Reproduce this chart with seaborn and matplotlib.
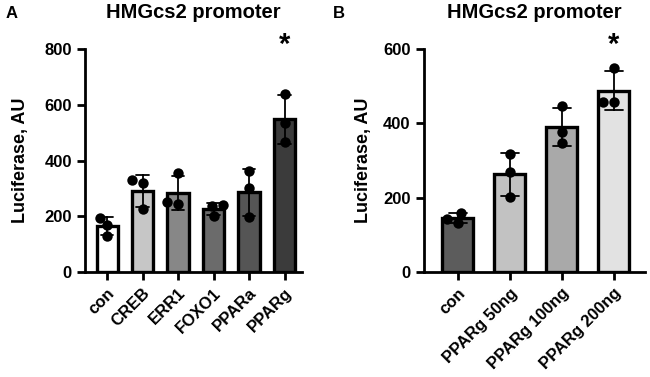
import pandas as pd
import matplotlib.pyplot as plt
import matplotlib.transforms as mtransforms
import seaborn as sns

# Panel A: transcription factors
groups_a = ['con', 'CREB', 'ERR1', 'FOXO1', 'PPARa', 'PPARg']
reps_a = [
    [195, 168, 130],
    [330, 320, 226],
    [355, 252, 246],
    [240, 237, 200],
    [362, 300, 197],
    [640, 535, 467],
]
colors_a = ['#ffffff', '#c6c6c6', '#878787', '#6b6b6b', '#555555', '#3b3b3b']

# Panel B: PPARg dose
groups_b = ['con', 'PPARg 50ng', 'PPARg 100ng', 'PPARg 200ng']
reps_b = [
    [160, 133, 142],
    [317, 270, 202],
    [446, 377, 346],
    [548, 458, 458],
]
colors_b = ['#5c5c5c', '#c2c2c2', '#a9a9a9', '#e2e2e2']

sns.set_style('ticks')
plt.rcParams['font.family'] = ['Liberation Sans', 'DejaVu Sans']
plt.rcParams['font.weight'] = 'bold'
plt.rcParams['text.color'] = 'black'
plt.rcParams['axes.labelcolor'] = 'black'
plt.rcParams['xtick.color'] = 'black'
plt.rcParams['ytick.color'] = 'black'
plt.rcParams['axes.edgecolor'] = 'black'


def long_form(groups, reps):
    rows = []
    for g, vals in zip(groups, reps):
        for v in vals:
            rows.append({'group': g, 'value': v})
    return pd.DataFrame(rows)


def draw_panel(ax, groups, reps, colors, ymax, ystep, xlim, star_idx, labelpad):
    df = long_form(groups, reps)
    sns.barplot(data=df, x='group', y='value', hue='group', palette=colors,
                order=groups, errorbar='sd', capsize=0.35, width=0.6,
                edgecolor='black', linewidth=2.4, legend=False, ax=ax,
                err_kws={'color': 'black', 'linewidth': 1.3})
    sns.swarmplot(data=df, x='group', y='value', order=groups, color='black',
                  size=7.5, ax=ax)
    ax.set_ylim(0, ymax)
    ax.set_xlim(*xlim)
    ax.set_yticks(range(0, ymax + 1, ystep))
    ax.set_xlabel('')
    ax.set_ylabel('Luciferase, AU', fontsize=13, fontweight='bold',
                  labelpad=labelpad)
    ax.set_title('HMGcs2 promoter', fontsize=14.5, fontweight='bold', pad=22)
    for side in ['top', 'right']:
        ax.spines[side].set_visible(False)
    for side in ['left', 'bottom']:
        ax.spines[side].set_linewidth(2)
        ax.spines[side].set_color('black')
    ax.tick_params(width=2, length=6, labelsize=12, colors='black')
    plt.setp(ax.get_xticklabels(), rotation=45, ha='right',
             rotation_mode='anchor', fontweight='bold')
    plt.setp(ax.get_yticklabels(), fontweight='bold')
    trans = mtransforms.blended_transform_factory(ax.transData, ax.transAxes)
    ax.text(star_idx, 0.955, '*', transform=trans, ha='center', va='bottom',
            fontsize=21, fontweight='bold')


fig = plt.figure(figsize=(6.5, 3.77), dpi=100)
ax_a = fig.add_axes([0.131, 0.278, 0.334, 0.592])
ax_b = fig.add_axes([0.652, 0.278, 0.340, 0.592])

draw_panel(ax_a, groups_a, reps_a, colors_a, 800, 200, (-0.62, 5.5), 5, 11)
draw_panel(ax_b, groups_b, reps_b, colors_b, 600, 200, (-0.65, 3.6), 3, 8)

fig.text(0.008, 0.965, 'A', fontsize=12, fontweight='bold', va='center')
fig.text(0.512, 0.965, 'B', fontsize=12, fontweight='bold', va='center')

fig.savefig('out.png', dpi=100)
